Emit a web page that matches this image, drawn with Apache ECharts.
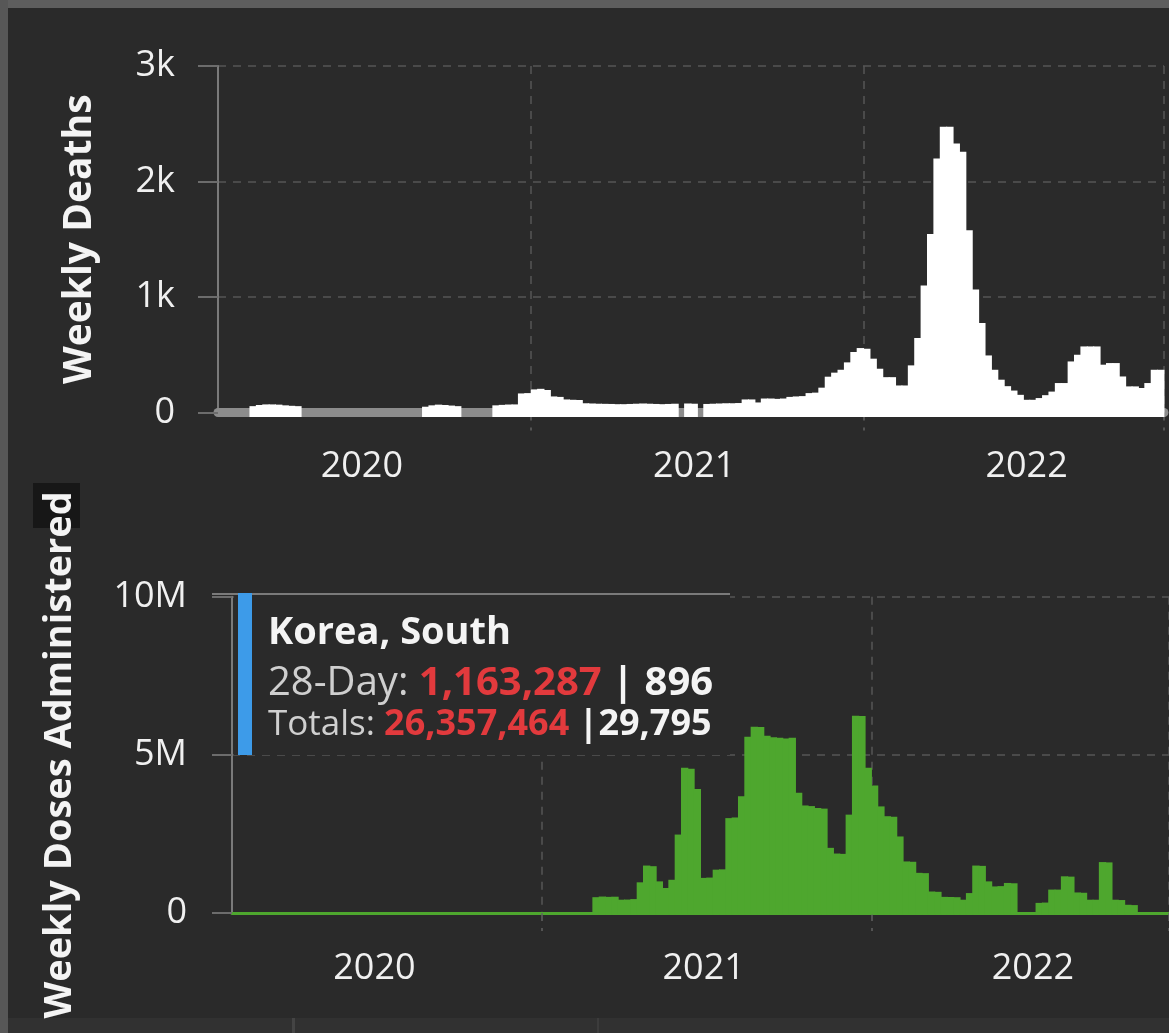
<!DOCTYPE html>
<html>
<head>
<meta charset="utf-8">
<script src="https://cdn.jsdelivr.net/npm/echarts@6/dist/echarts.min.js"></script>
<style>
html,body{margin:0;padding:0;background:#2a2a2a;}
#c{width:1169px;height:1033px;}
</style>
</head>
<body>
<div id="c"></div>
<script>
// ---------- data ----------
const firstWeek = '2020-01-22';
const weekCount = 148;
const weeks = [];
for (let i = 0; i < weekCount; i++) {
  const d = new Date(Date.UTC(2020, 0, 22 + 7 * i));
  weeks.push(d.toISOString().slice(0, 10));
}
const yearTicks = ['2020', '2021', '2022'];
const yearTickWeeks = ['2020-06-24', '2021-06-23', '2022-06-22'];
const yearStartWeeks = ['2020-12-30', '2021-12-29'];

const deathTicks = ['0', '1k', '2k', '3k'];
const doseTicks = ['0', '5M', '10M'];

// weekly deaths (null = no reported value drawn)
const deaths = [
  null, null, null, null, null,
  55, 65, 70, 70, 68, 62, 58, 55,
  null, null, null, null, null, null, null, null, null, null,
  null, null, null, null, null, null, null, null, null,
  50, 62, 68, 65, 60, 55,
  null, null, null, null, null,
  62, 66, 69, 70,
  165, 168,
  200, 205, 195,
  139, 135,
  113, 110, 108,
  80, 78, 76, 75, 74, 72, 72, 74, 76, 78, 76, 74, 72, 74, 76,
  null,
  78, 76,
  null,
  74, 76, 78, 80, 80, 82,
  113, 113,
  87,
  121, 121, 118, 121,
  135, 139, 142,
  168, 172,
  215, 310, 345, 370, 434, 524, 558, 552, 466, 379,
  306, 306, 234, 234, 408, 645, 1100, 1545, 2200, 2475,
  2475, 2330, 2257, 1578, 1064, 775, 494, 370, 284, 228,
  190, 153, 110, 110, 125, 150, 181, 255, 255, 442,
  500, 572, 572, 572, 414, 428, 428, 312, 226, 226,
  212, 255, 370, 370
];

// weekly vaccine doses administered
const doses = [
  0, 0, 0, 0, 0, 0, 0, 0, 0, 0,
  0, 0, 0, 0, 0, 0, 0, 0, 0, 0,
  0, 0, 0, 0, 0, 0, 0, 0, 0, 0,
  0, 0, 0, 0, 0, 0, 0, 0, 0, 0,
  0, 0, 0, 0, 0, 0, 0, 0, 0, 0,
  0, 0, 0, 0, 0, 0, 0,
  500000, 520000, 510000, 515000,
  420000, 425000, 440000,
  970000,
  1500000, 1480000,
  1000000,
  790000,
  1050000,
  2480000,
  4590000, 4560000,
  3920000,
  1110000, 1120000,
  1370000, 1380000,
  3000000, 3020000,
  3690000,
  5570000,
  5890000, 5880000,
  5600000, 5560000, 5540000, 5520000, 5540000,
  3800000,
  3400000, 3380000,
  3320000, 3300000,
  2060000,
  1880000, 1870000,
  3110000,
  6240000, 6230000,
  4590000,
  4030000,
  3370000,
  3060000, 3040000,
  2420000,
  1630000, 1620000,
  1270000, 1260000,
  680000, 670000,
  510000, 505000, 500000,
  420000,
  630000,
  1500000, 1490000,
  1000000,
  840000, 850000,
  950000, 940000,
  0, 0, 0,
  320000, 330000,
  740000, 740000,
  1160000, 1150000,
  650000, 640000,
  420000, 420000,
  1610000, 1600000,
  420000, 410000,
  260000, 250000,
  0, 0, 0,
  null, null
];

const tipCountry = 'Korea, South';
const tip28Day = ['1,163,287', '896'];
const tipTotals = ['26,357,464', '29,795'];

// ---------- chart ----------
const FONT = '"Open Sans", "Noto Sans", sans-serif';
const inList = list => (idx, val) => list.indexOf(val) !== -1;
const GRIDLINE = '#555555';
const AXISGRAY = '#7a7a7a';

function xAxisFor(gridIndex, lineColor, lineWidth, margin) {
  return {
    type: 'category', gridIndex: gridIndex, data: weeks, boundaryGap: true,
    axisLine: { show: true, lineStyle: { color: lineColor, width: lineWidth } },
    axisTick: { show: true, interval: inList(yearStartWeeks), length: 18,
      lineStyle: { color: '#626262', width: 1.5, type: [8, 7] } },
    splitLine: { show: true, interval: inList(yearStartWeeks),
      lineStyle: { color: GRIDLINE, width: 1.5, type: [8, 7] } },
    axisLabel: { show: true, interval: inList(yearTickWeeks),
      formatter: v => yearTicks[yearTickWeeks.indexOf(v)],
      color: '#f0f0f0', fontSize: 36, fontFamily: FONT, margin: margin }
  };
}
function yAxisFor(gridIndex, max, interval, labels, name, nameGap, margin, nameSize) {
  return {
    type: 'value', gridIndex: gridIndex, min: 0, max: max, interval: interval,
    name: name, nameLocation: 'middle', nameRotate: 90, nameGap: nameGap,
    nameTextStyle: { color: '#f4f4f4', fontSize: nameSize, fontWeight: 'bold', fontFamily: FONT },
    axisLine: { show: true, lineStyle: { color: AXISGRAY, width: 2 } },
    axisTick: { show: true, inside: false, length: 20, lineStyle: { color: '#6c6c6c', width: 2 } },
    splitLine: { show: true, lineStyle: { color: GRIDLINE, width: 1.5, type: [8, 7] } },
    axisLabel: { color: '#f0f0f0', fontSize: 36, fontFamily: FONT, margin: margin,
      formatter: v => labels[Math.round(v / interval)] }
  };
}

// weekly step blocks drawn through the axes' own scales
function weekBlock(color, below) {
  return function (params, api) {
    const v = api.value(1);
    if (v === null || v === undefined || isNaN(v) || v <= 0) return;
    const base = api.coord([api.value(0), 0]);
    const top = api.coord([api.value(0), v]);
    const w = api.size([1, 0])[0];
    return {
      type: 'rect',
      shape: { x: base[0] - w / 2 - 0.5, y: top[1], width: w + 1, height: base[1] - top[1] + below },
      style: { fill: color }
    };
  };
}

const chart = echarts.init(document.getElementById('c'));
chart.setOption({
  animation: false,
  backgroundColor: '#2a2a2a',
  textStyle: { fontFamily: FONT },
  grid: [
    { left: 218, top: 66, width: 946, height: 346.5 },
    { left: 232, top: 596.7, width: 937, height: 316.3 }
  ],
  xAxis: [
    xAxisFor(0, '#8c8c8c', 9, 36),
    xAxisFor(1, '#4ea72e', 3, 38)
  ],
  yAxis: [
    yAxisFor(0, 3000, 1000, deathTicks, 'Weekly Deaths', 119, 43, 39),
    yAxisFor(1, 10000000, 5000000, doseTicks, 'Weekly Doses Administered', 153, 45, 38)
  ],
  series: [
    { type: 'custom', xAxisIndex: 0, yAxisIndex: 0, silent: true,
      data: weeks.map((w, i) => [i, deaths[i]]), encode: { x: 0, y: 1 },
      renderItem: weekBlock('#ffffff', 4.5) },
    { type: 'custom', xAxisIndex: 1, yAxisIndex: 1, silent: true,
      data: weeks.map((w, i) => [i, doses[i]]), encode: { x: 0, y: 1 },
      renderItem: weekBlock('#4ea72e', 1.5) }
  ],
  graphic: [
    { type: 'rect', z: 100, shape: { x: 0, y: 0, width: 1169, height: 8 }, style: { fill: '#5e5e5e' } },
    { type: 'rect', z: 100, shape: { x: 0, y: 0, width: 8, height: 1033 }, style: { fill: '#575757' } },
    { type: 'rect', z: -2, shape: { x: 8, y: 1018, width: 1161, height: 15 }, style: { fill: '#313131' } },
    { type: 'rect', z: -2, shape: { x: 292, y: 1018, width: 3, height: 15 }, style: { fill: '#444444' } },
    { type: 'rect', z: -2, shape: { x: 597, y: 1018, width: 2, height: 15 }, style: { fill: '#3c3c3c' } },
    { type: 'rect', z: -1, shape: { x: 33, y: 483, width: 47, height: 45 }, style: { fill: '#171717' } },
    // tooltip overlay
    { type: 'rect', z: 100, shape: { x: 234, y: 593, width: 496, height: 162 }, style: { fill: '#2a2a2a' } },
    { type: 'line', z: 101, shape: { x1: 212, y1: 594, x2: 730, y2: 594 }, style: { stroke: '#7a7a7a', lineWidth: 2 } },
    { type: 'rect', z: 102, shape: { x: 238, y: 593, width: 14, height: 162 }, style: { fill: '#3d9be9' } },
    { type: 'text', z: 103, x: 268, y: 633, style: {
        text: tipCountry, fill: '#f4f4f4', fontSize: 38, fontWeight: 'bold', fontFamily: FONT,
        verticalAlign: 'middle', align: 'left' } },
    { type: 'text', z: 103, x: 268, y: 684, style: {
        text: '{l|28-Day: }{r|' + tip28Day[0] + '}{w| | ' + tip28Day[1] + '}',
        verticalAlign: 'middle', align: 'left', fontSize: 40, fontFamily: FONT,
        rich: {
          l: { fill: '#cfcfcf', fontSize: 40, fontFamily: FONT },
          r: { fill: '#e23a3d', fontSize: 40, fontWeight: 'bold', fontFamily: FONT },
          w: { fill: '#f4f4f4', fontSize: 40, fontWeight: 'bold', fontFamily: FONT }
        } } },
    { type: 'text', z: 103, x: 268, y: 725, style: {
        text: '{l|Totals: }{r|' + tipTotals[0] + '}{w| |' + tipTotals[1] + '}',
        verticalAlign: 'middle', align: 'left', fontSize: 36, fontFamily: FONT,
        rich: {
          l: { fill: '#cfcfcf', fontSize: 35, fontFamily: FONT },
          r: { fill: '#e23a3d', fontSize: 36, fontWeight: 'bold', fontFamily: FONT },
          w: { fill: '#f4f4f4', fontSize: 36, fontWeight: 'bold', fontFamily: FONT }
        } } }
  ]
});
</script>
</body>
</html>
